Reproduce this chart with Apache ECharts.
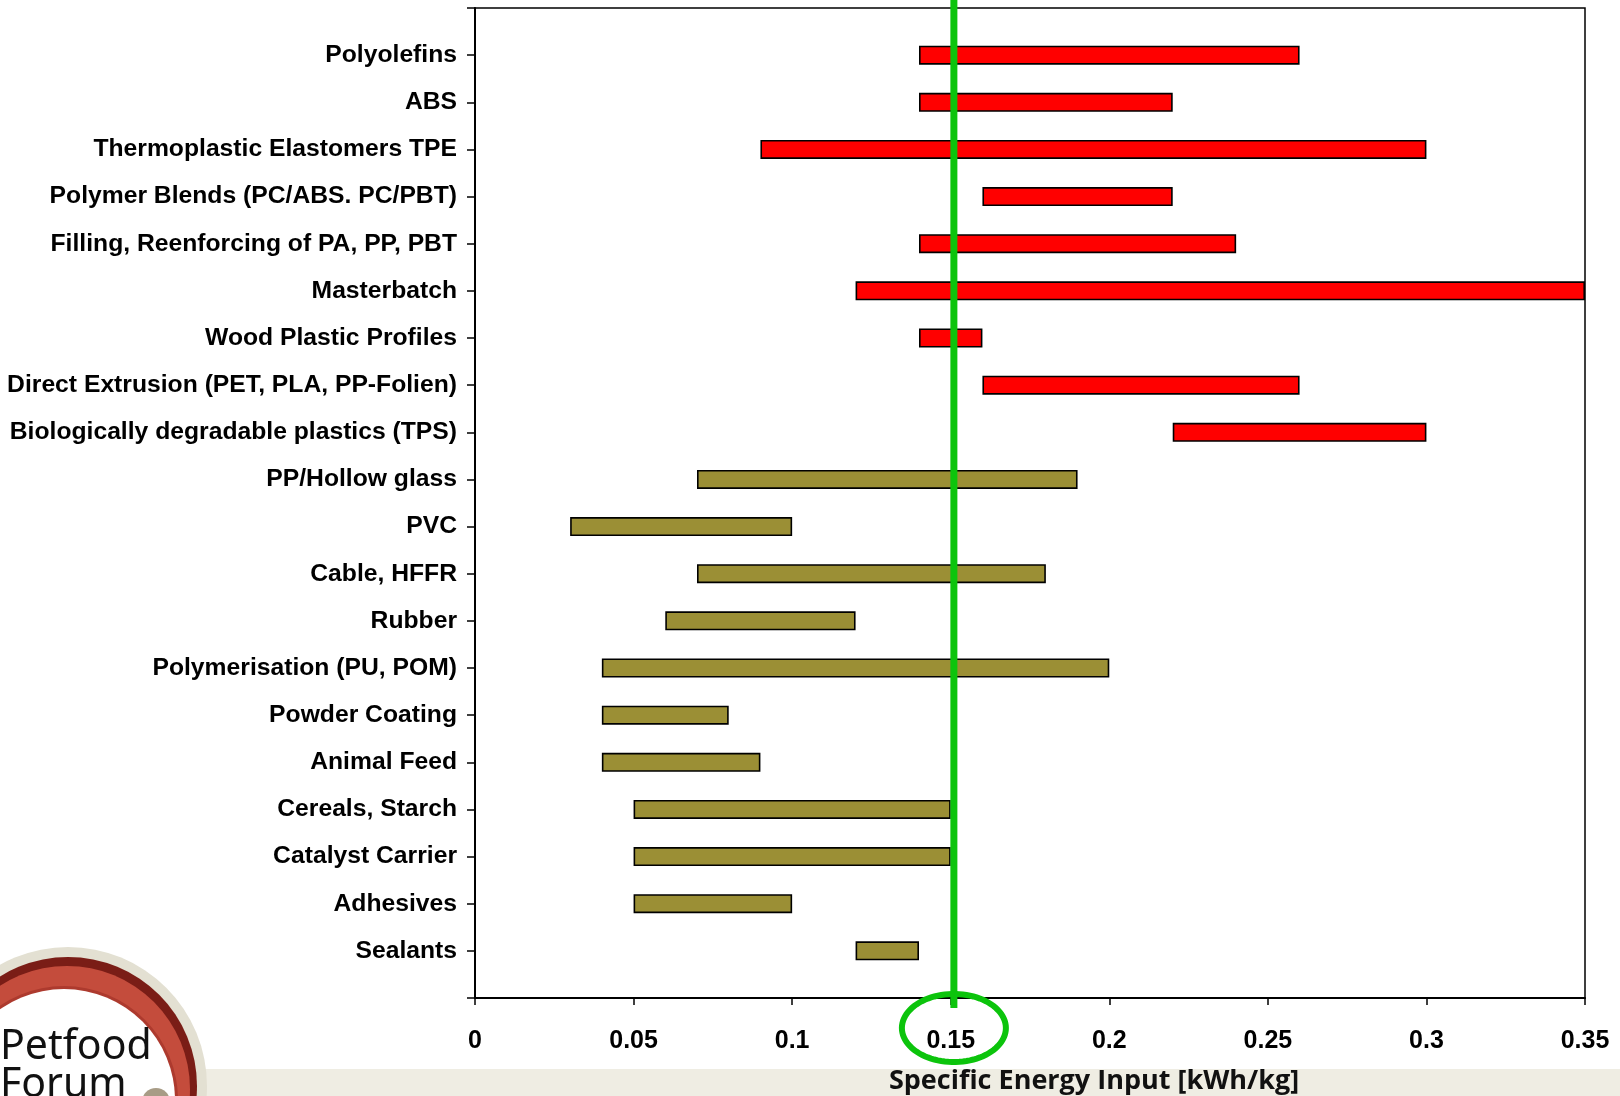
<!DOCTYPE html>
<html>
<head>
<meta charset="utf-8">
<script src="https://cdn.jsdelivr.net/npm/echarts@6/dist/echarts.min.js"></script>
<style>
  html, body { margin: 0; padding: 0; background: #ffffff; }
  #chart { width: 1620px; height: 1096px; }
</style>
</head>
<body>
<div id="chart"></div>
<script>
// Processes, top to bottom
const categories = [
  'Polyolefins',
  'ABS',
  'Thermoplastic Elastomers TPE',
  'Polymer Blends (PC/ABS. PC/PBT)',
  'Filling, Reenforcing of PA, PP, PBT',
  'Masterbatch',
  'Wood Plastic Profiles',
  'Direct Extrusion (PET, PLA, PP-Folien)',
  'Biologically degradable plastics (TPS)',
  'PP/Hollow glass',
  'PVC',
  'Cable, HFFR',
  'Rubber',
  'Polymerisation (PU, POM)',
  'Powder Coating',
  'Animal Feed',
  'Cereals, Starch',
  'Catalyst Carrier',
  'Adhesives',
  'Sealants'
];

// Specific energy input range per process [kWh/kg]
const energyMin = [0.14, 0.14, 0.09, 0.16, 0.14, 0.12, 0.14, 0.16, 0.22, 0.07,
                   0.03, 0.07, 0.06, 0.04, 0.04, 0.04, 0.05, 0.05, 0.05, 0.12];
const energyMax = [0.26, 0.22, 0.30, 0.22, 0.24, 0.35, 0.16, 0.26, 0.30, 0.19,
                   0.10, 0.18, 0.12, 0.20, 0.08, 0.09, 0.15, 0.15, 0.10, 0.14];

// Process group: plastics compounding vs. other applications
const processGroup = ['plastics', 'plastics', 'plastics', 'plastics', 'plastics',
                      'plastics', 'plastics', 'plastics', 'plastics', 'other',
                      'other', 'other', 'other', 'other', 'other',
                      'other', 'other', 'other', 'other', 'other'];

const xTicks = [0, 0.05, 0.1, 0.15, 0.2, 0.25, 0.3, 0.35];
const referenceValue = 0.151;
const axisTitle = 'Specific Energy Input [kWh/kg]';

const groupColor = { plastics: '#ff0000', other: '#9b8f35' };

// Empty slots above and below the list give the padding rows of the axis
const axisCategories = [''].concat(categories, ['']);
const baseData = [null].concat(energyMin, [null]);
const spanData = [null].concat(
  categories.map((c, i) => ({
    value: +(energyMax[i] - energyMin[i]).toFixed(4),
    itemStyle: { color: groupColor[processGroup[i]] }
  })),
  [null]
);

const chart = echarts.init(document.getElementById('chart'));

const option = {
  backgroundColor: '#ffffff',
  animation: false,
  grid: {
    left: 475, right: 35, top: 8, bottom: 98,
    show: true, borderColor: '#000', borderWidth: 1.5, backgroundColor: 'transparent'
  },
  xAxis: {
    type: 'value',
    min: xTicks[0],
    max: xTicks[xTicks.length - 1],
    interval: 0.05,
    splitLine: { show: false },
    axisLine: { show: true, lineStyle: { color: '#000', width: 2 } },
    axisTick: { show: true, length: 7, lineStyle: { color: '#000', width: 1.5 } },
    axisLabel: {
      color: '#000', fontFamily: 'Liberation Sans', fontWeight: 'bold', fontSize: 25, margin: 31,
      formatter: v => String(+v.toFixed(2))
    }
  },
  yAxis: {
    type: 'category',
    data: axisCategories,
    inverse: true,
    boundaryGap: false,
    axisLine: { show: true, lineStyle: { color: '#000', width: 2 } },
    axisTick: { show: true, length: 8, interval: 0, lineStyle: { color: '#000', width: 1.5 } },
    axisLabel: {
      interval: 0, color: '#000', fontFamily: 'Liberation Sans', fontWeight: 'bold',
      fontSize: 24.7, margin: 18, padding: [3, 0, 0, 0]
    },
    splitLine: { show: false }
  },
  series: [
    {
      type: 'bar', stack: 'range', barWidth: 19, silent: true,
      itemStyle: { color: 'transparent', borderWidth: 0 },
      data: baseData
    },
    {
      type: 'bar', stack: 'range', barWidth: 19,
      itemStyle: { borderColor: '#000', borderWidth: 1.6 },
      data: spanData
    }
  ]
};

chart.setOption(option);

// Reference marker at the design value, placed through the x scale
const refX = chart.convertToPixel({ xAxisIndex: 0 }, referenceValue);
const axisY = chart.convertToPixel({ yAxisIndex: 0 }, axisCategories.length - 1);
const ellipseCy = axisY + 30;
const ellipsePts = [];
for (let k = 0; k < 90; k++) {
  const t = (k / 90) * Math.PI * 2;
  ellipsePts.push([refX + 52 * Math.cos(t), ellipseCy + 34 * Math.sin(t)]);
}

// Logo rings in the lower left corner
const logoCx = 68, logoCy = 1086;

chart.setOption({
  graphic: [
    { type: 'rect', z: 0, shape: { x: 0, y: 1069, width: 1620, height: 27 }, style: { fill: '#efede3' } },
    { type: 'circle', z: 1, shape: { cx: logoCx, cy: logoCy, r: 139 }, style: { fill: '#e3e0d2' } },
    { type: 'circle', z: 1, shape: { cx: logoCx, cy: logoCy, r: 129 }, style: { fill: '#7a1d16' } },
    { type: 'circle', z: 1, shape: { cx: logoCx - 1, cy: logoCy + 3, r: 123 }, style: { fill: '#c44c3c' } },
    { type: 'circle', z: 1, shape: { cx: 64, cy: 1100, r: 114 }, style: { fill: '#ad3a2e' } },
    { type: 'circle', z: 1, shape: { cx: 64, cy: 1100, r: 111 }, style: { fill: '#ffffff' } },
    { type: 'circle', z: 1, shape: { cx: 156, cy: 1102, r: 14 }, style: { fill: '#a89c86' } },
    {
      type: 'text', z: 2, x: 0, y: 1068,
      style: {
        text: 'Petfood', fill: '#111', font: '400 41px "Liberation Sans Narrow", "Noto Sans", sans-serif',
        verticalAlign: 'bottom'
      }
    },
    {
      type: 'text', z: 2, x: 0, y: 1106,
      style: {
        text: 'Forum', fill: '#111', font: '400 41px "Liberation Sans Narrow", "Noto Sans", sans-serif',
        verticalAlign: 'bottom'
      }
    },
    {
      type: 'text', z: 2, x: 1094, y: 1081,
      style: {
        text: axisTitle, fill: '#111', font: 'bold 27px "Open Sans", sans-serif',
        align: 'center', verticalAlign: 'middle'
      }
    },
    {
      type: 'line', z: 20,
      shape: { x1: refX, y1: 0, x2: refX, y2: axisY + 10 },
      style: { stroke: '#0cc40c', lineWidth: 7 }
    },
    {
      type: 'polygon', z: 20,
      shape: { points: ellipsePts },
      style: { fill: 'none', stroke: '#0cc40c', lineWidth: 6 }
    }
  ]
});
</script>
</body>
</html>
